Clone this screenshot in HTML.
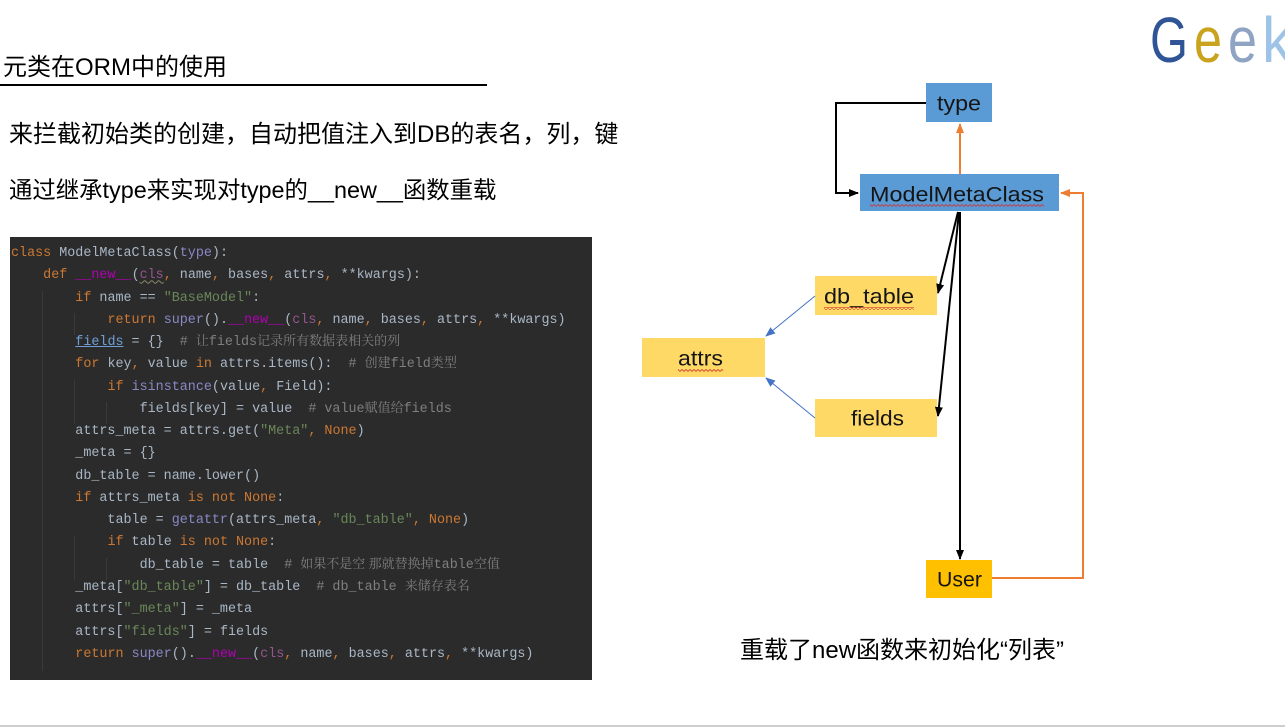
<!DOCTYPE html>
<html><head><meta charset="utf-8">
<style>
html,body{margin:0;padding:0;}
body{width:1285px;height:728px;background:#fff;position:relative;overflow:hidden;font-family:"Liberation Sans","Noto Sans CJK SC",sans-serif;color:#000;}
.t{position:absolute;white-space:nowrap;font-size:24px;line-height:1;}
#code{position:absolute;left:10px;top:237px;width:582px;height:443px;background:#2b2b2b;overflow:hidden;}
#lines{position:absolute;left:1px;top:6px;font-family:"Liberation Mono","Noto Sans CJK SC",monospace;font-size:13.4px;color:#a9b7c6;}
#lines div{height:22.28px;line-height:22.28px;white-space:pre;overflow:visible;}
.k{color:#cc7832}.s{color:#6a8759}.b{color:#8888c6}.m{color:#b200b2}.p{color:#94558d;text-decoration:underline wavy #8a8a6a;text-decoration-thickness:1px}
.c{color:#7f7f7f}.u{color:#6f9fd6;text-decoration:underline}
.z{font-family:"Noto Serif CJK SC",serif;font-size:13px;line-height:0;}
.g{position:absolute;width:1px;background:#3a3a3a;}
</style></head><body>
<div class="t" style="left:3px;top:56px;">元类在ORM中的使用</div>
<div style="position:absolute;left:0;top:84px;width:487px;height:2px;background:#000;"></div>
<div class="t" style="left:9px;top:123px;">来拦截初始类的创建，自动把值注入到DB的表名，列，键</div>
<div class="t" style="left:9px;top:179px;font-size:23.4px;">通过继承type来实现对type的__new__函数重载</div>

<div id="code">
<div class="g" style="left:32px;top:54px;height:380px;"></div>
<div class="g" style="left:64px;top:76px;height:22px;"></div>
<div class="g" style="left:64px;top:143px;height:44px;"></div>
<div class="g" style="left:96px;top:165px;height:22px;"></div>
<div class="g" style="left:64px;top:299px;height:44px;"></div>
<div class="g" style="left:96px;top:321px;height:22px;"></div>
<div id="lines">
<div><span class="k">class</span> ModelMetaClass(<span class="b">type</span>):</div>
<div>    <span class="k">def</span> <span class="m">__new__</span>(<span class="p">cls</span><span class="k">,</span> name<span class="k">,</span> bases<span class="k">,</span> attrs<span class="k">,</span> **kwargs):</div>
<div>        <span class="k">if</span> name == <span class="s">"BaseModel"</span>:</div>
<div>            <span class="k">return</span> <span class="b">super</span>().<span class="m">__new__</span>(<span style="color:#94558d">cls</span><span class="k">,</span> name<span class="k">,</span> bases<span class="k">,</span> attrs<span class="k">,</span> **kwargs)</div>
<div>        <span class="u">fields</span> = {}  <span class="c"># <span class="z">让</span>fields<span class="z">记录所有数据表相关的列</span></span></div>
<div>        <span class="k">for</span> key<span class="k">,</span> value <span class="k">in</span> attrs.items():  <span class="c"># <span class="z">创建</span>field<span class="z">类型</span></span></div>
<div>            <span class="k">if</span> <span class="b">isinstance</span>(value<span class="k">,</span> Field):</div>
<div>                fields[key] = value  <span class="c"># value<span class="z">赋值给</span>fields</span></div>
<div>        attrs_meta = attrs.get(<span class="s">"Meta"</span><span class="k">,</span> <span class="k">None</span>)</div>
<div>        _meta = {}</div>
<div>        db_table = name.lower()</div>
<div>        <span class="k">if</span> attrs_meta <span class="k">is not None</span>:</div>
<div>            table = <span class="b">getattr</span>(attrs_meta<span class="k">,</span> <span class="s">"db_table"</span><span class="k">,</span> <span class="k">None</span>)</div>
<div>            <span class="k">if</span> table <span class="k">is not None</span>:</div>
<div>                db_table = table  <span class="c"># <span class="z">如果不是空 那就替换掉</span>table<span class="z">空值</span></span></div>
<div>        _meta[<span class="s">"db_table"</span>] = db_table  <span class="c"># db_table <span class="z">来储存表名</span></span></div>
<div>        attrs[<span class="s">"_meta"</span>] = _meta</div>
<div>        attrs[<span class="s">"fields"</span>] = fields</div>
<div>        <span class="k">return</span> <span class="b">super</span>().<span class="m">__new__</span>(<span style="color:#94558d">cls</span><span class="k">,</span> name<span class="k">,</span> bases<span class="k">,</span> attrs<span class="k">,</span> **kwargs)</div>
</div>
</div>

<div class="t" style="left:740px;top:639px;">重载了new函数来初始化“列表”</div>

<svg width="1285" height="728" style="position:absolute;left:0;top:0;" xmlns="http://www.w3.org/2000/svg">
<defs>
<marker id="ab" markerUnits="userSpaceOnUse" markerWidth="10" markerHeight="10" refX="9" refY="5" orient="auto"><path d="M0,1 L10,5 L0,9 z" fill="#000"/></marker>
<marker id="ao" markerUnits="userSpaceOnUse" markerWidth="10" markerHeight="10" refX="9" refY="5" orient="auto"><path d="M0,1 L10,5 L0,9 z" fill="#ed7d31"/></marker>
<marker id="al" markerUnits="userSpaceOnUse" markerWidth="10" markerHeight="10" refX="9" refY="5" orient="auto"><path d="M0,1 L10,5 L0,9 z" fill="#4472c4"/></marker>
<pattern id="wv" patternUnits="userSpaceOnUse" width="4" height="3"><path d="M0,2.5 L2,0.5 L4,2.5" fill="none" stroke="#d03030" stroke-width="0.8"/></pattern>
</defs>
<!-- Geek logo -->
<g font-family="Liberation Sans, sans-serif" font-size="64">
<text x="1150" y="62" fill="#2f5597" textLength="38" lengthAdjust="spacingAndGlyphs">G</text>
<text x="1194" y="62" fill="#c9a21e" textLength="28" lengthAdjust="spacingAndGlyphs">e</text>
<text x="1228" y="62" fill="#8ea4c2" textLength="29" lengthAdjust="spacingAndGlyphs">e</text>
<text x="1262" y="62" fill="#9dc3e6" textLength="30" lengthAdjust="spacingAndGlyphs">k</text>
</g>
<!-- boxes -->
<rect x="926" y="83" width="66" height="39" fill="#5b9bd5"/>
<rect x="860" y="174" width="199" height="37" fill="#5b9bd5"/>
<rect x="815" y="276" width="122" height="39" fill="#ffd966"/>
<rect x="642" y="338" width="123" height="39" fill="#ffd966"/>
<rect x="815" y="399" width="122" height="38" fill="#ffd966"/>
<rect x="926" y="560" width="66" height="38" fill="#ffc000"/>
<!-- connectors -->
<polyline points="926,103 836,103 836,193 858,193" fill="none" stroke="#000" stroke-width="2" marker-end="url(#ab)"/>
<line x1="960" y1="174" x2="960" y2="124" stroke="#ed7d31" stroke-width="2" marker-end="url(#ao)"/>
<polyline points="992,578 1083,578 1083,193 1061,193" fill="none" stroke="#ed7d31" stroke-width="2" marker-end="url(#ao)"/>
<line x1="958" y1="212" x2="938" y2="293" stroke="#000" stroke-width="2" marker-end="url(#ab)"/>
<line x1="959" y1="212" x2="938" y2="416" stroke="#000" stroke-width="2" marker-end="url(#ab)"/>
<line x1="960" y1="212" x2="960" y2="559" stroke="#000" stroke-width="2" marker-end="url(#ab)"/>
<line x1="815" y1="296" x2="766" y2="336" stroke="#4472c4" stroke-width="1" marker-end="url(#al)"/>
<line x1="815" y1="418" x2="766" y2="378" stroke="#4472c4" stroke-width="1" marker-end="url(#al)"/>
<!-- labels -->
<g font-family="Liberation Sans, sans-serif" font-size="21" fill="#151515" dominant-baseline="central">
<text x="937" y="104" textLength="44" lengthAdjust="spacingAndGlyphs">type</text>
<text x="870" y="195" textLength="174" lengthAdjust="spacingAndGlyphs">ModelMetaClass</text>
<text x="824" y="297" textLength="90" lengthAdjust="spacingAndGlyphs">db_table</text>
<text x="678" y="359" textLength="45" lengthAdjust="spacingAndGlyphs">attrs</text>
<text x="851" y="419" textLength="53" lengthAdjust="spacingAndGlyphs">fields</text>
<text x="937" y="580" textLength="45" lengthAdjust="spacingAndGlyphs">User</text>
</g>
<rect x="870" y="204" width="174" height="3" fill="url(#wv)"/>
<rect x="824" y="307" width="90" height="3" fill="url(#wv)"/>
<rect x="678" y="369" width="45" height="3" fill="url(#wv)"/>
<!-- bottom rule -->
<rect x="0" y="725" width="1285" height="2" fill="#cfcfcf"/>
</svg>
</body></html>
